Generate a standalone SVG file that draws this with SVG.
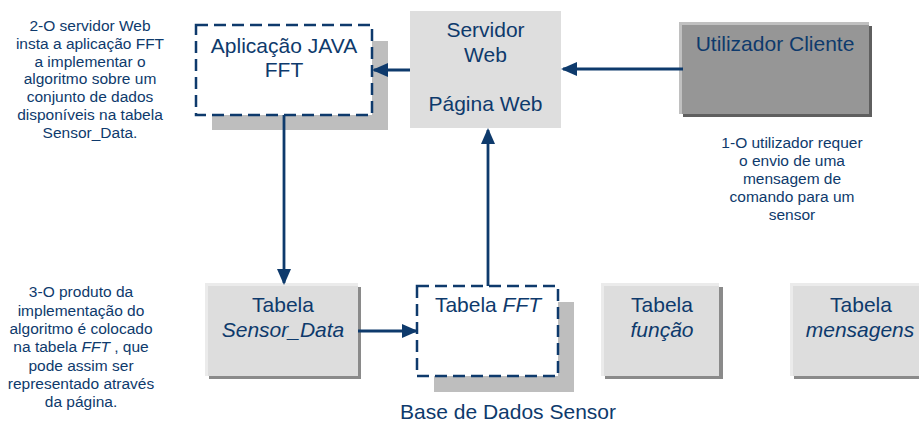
<svg xmlns="http://www.w3.org/2000/svg" width="919" height="423" viewBox="0 0 919 423">
<defs>
<style>
text{font-family:"Liberation Sans",Arial,sans-serif;fill:#0E3A6C;text-anchor:middle}
.big{font-size:21px}
.note{font-size:15.5px}
.it{font-style:italic}
.dash{fill:#fff;stroke:#0E3A6C;stroke-width:2.5;stroke-dasharray:12 6}
.sh{fill:#BEBEBE}
.tsh{fill:#8A8A8A}
.tlt{fill:#EBEBEB}
.tin{fill:#DDDDDD}
.con{fill:none;stroke:#0E3A6C;stroke-width:2.8}
</style>
<marker id="ah" markerUnits="userSpaceOnUse" markerWidth="16" markerHeight="16" viewBox="0 0 16 16" refX="14" refY="8" orient="auto">
<path d="M0,1 L16,8 L0,15 z" fill="#0E3A6C"/>
</marker>
</defs>
<rect width="919" height="423" fill="#fff"/>

<g id="note-2">
<text class="note" x="90" y="31">2-O servidor Web</text>
<text class="note" x="90" y="48.8">insta a aplicação FFT</text>
<text class="note" x="90" y="66.6">a implementar o</text>
<text class="note" x="90" y="84.4">algoritmo sobre um</text>
<text class="note" x="90" y="102.2">conjunto de dados</text>
<text class="note" x="90" y="120">disponíveis na tabela</text>
<text class="note" x="90" y="137.8">Sensor_Data.</text>
</g>

<g id="note-3">
<text class="note" x="81" y="297.3">3-O produto da</text>
<text class="note" x="81" y="315.6">implementação do</text>
<text class="note" x="81" y="333.9">algoritmo é colocado</text>
<text class="note" x="81" y="352.2">na tabela <tspan class="it">FFT</tspan> , que</text>
<text class="note" x="81" y="370.5">pode assim ser</text>
<text class="note" x="81" y="388.8">representado através</text>
<text class="note" x="81" y="407.1">da página.</text>
</g>

<g id="note-1">
<text class="note" x="792" y="148">1-O utilizador requer</text>
<text class="note" x="792" y="166">o envio de uma</text>
<text class="note" x="792" y="184">mensagem de</text>
<text class="note" x="792" y="202">comando para um</text>
<text class="note" x="792" y="220">sensor</text>
</g>

<g id="aplicacao-java">
<rect class="sh" x="212" y="41" width="176" height="89"/>
<rect class="dash" x="196" y="25" width="176" height="90"/>
<text class="big" x="284" y="53">Aplicação JAVA</text>
<text class="big" x="284" y="77">FFT</text>
</g>

<g id="servidor-web">
<rect x="410" y="11" width="151" height="117" fill="#DEDEDE"/>
<text class="big" x="485.5" y="37">Servidor</text>
<text class="big" x="485.5" y="62">Web</text>
<text class="big" x="485.5" y="111">Página Web</text>
</g>

<g id="utilizador-cliente">
<rect x="683" y="26" width="189" height="91" fill="#5F5F5F"/>
<rect x="679" y="22" width="190" height="92" fill="#C0C0C0"/>
<rect x="682" y="25" width="187" height="89" fill="#969696"/>
<text class="big" x="775" y="51">Utilizador Cliente</text>
</g>

<g id="tabela-sensor-data">
<rect class="tsh" x="209" y="287" width="152" height="92"/>
<rect class="tlt" x="205" y="283" width="153" height="93"/>
<rect class="tin" x="208" y="286" width="150" height="90"/>
<text class="big" x="283" y="312">Tabela</text>
<text class="big it" x="283" y="337">Sensor_Data</text>
</g>

<g id="tabela-fft">
<rect class="sh" x="434" y="302" width="140" height="90"/>
<rect class="dash" x="417" y="286" width="141" height="90"/>
<text class="big" x="488" y="312">Tabela <tspan class="it">FFT</tspan></text>
</g>

<g id="tabela-funcao">
<rect class="tsh" x="605" y="287" width="118" height="92"/>
<rect class="tlt" x="601" y="283" width="118" height="93"/>
<rect class="tin" x="604" y="286" width="115" height="90"/>
<text class="big" x="662" y="312">Tabela</text>
<text class="big it" x="662" y="337">função</text>
</g>

<g id="tabela-mensagens">
<rect class="tsh" x="794" y="287" width="130" height="92"/>
<rect class="tlt" x="790" y="283" width="134" height="93"/>
<rect class="tin" x="793" y="286" width="131" height="90"/>
<text class="big" x="861" y="312">Tabela</text>
<text class="big it" x="860" y="337">mensagens</text>
</g>

<g id="base-dados-label">
<text class="big" x="508" y="419">Base de Dados Sensor</text>
</g>

<g id="connectors">
<path class="con" d="M683,69 H563" marker-end="url(#ah)"/>
<path class="con" d="M410,70 H374" marker-end="url(#ah)"/>
<path class="con" d="M284,115 V283" marker-end="url(#ah)"/>
<path class="con" d="M358,331 H416" marker-end="url(#ah)"/>
<path class="con" d="M488,286 V130" marker-end="url(#ah)"/>
</g>
</svg>
